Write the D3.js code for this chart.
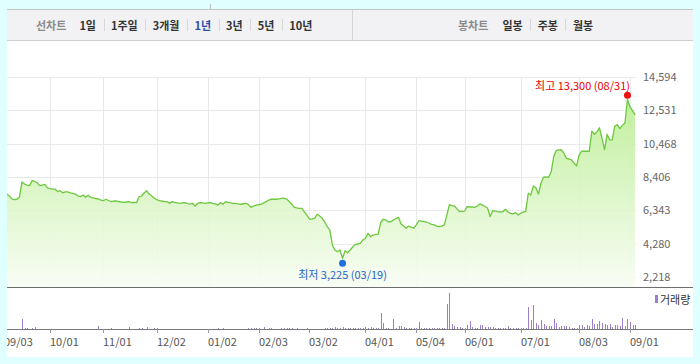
<!DOCTYPE html>
<html>
<head>
<meta charset="utf-8">
<script src="https://cdn.jsdelivr.net/npm/d3@7"></script>
<style>
  body { margin: 0; background: #e0ffff; }
  svg { display: block; font-family: "Noto Sans CJK KR", "Noto Sans", sans-serif; }
</style>
</head>
<body>
<svg id="chart" width="700" height="364"></svg>
<script>
const svg = d3.select("#chart");

// one close per trading day, 2019-09-03 .. 2020-09-03
const closes = [
  7420, 7350, 7230, 7050, 7010, 7030, 7170, 8100, 7970, 7910,
  7870, 8180, 8130, 8030, 7870, 7910, 7950, 7730, 7690, 7660,
  7660, 7500, 7560, 7430, 7480, 7480, 7420, 7390, 7350, 7230,
  7190, 7290, 7150, 7270, 7150, 7110, 7060, 7050, 6980, 6940,
  7030, 6950, 6880, 6920, 6920, 6890, 6860, 6840, 6860, 6880,
  6820, 6830, 6820, 7170, 7230, 7420, 7560, 7350, 7230, 7090,
  7010, 6940, 6920, 6890, 6880, 6780, 6880, 6830, 6800, 6780,
  6800, 6820, 6770, 6720, 6780, 6610, 6770, 6820, 6800, 6780,
  6800, 6820, 6770, 6740, 6670, 6820, 6720, 6880, 6830, 6800,
  6780, 6770, 6740, 6720, 6750, 6780, 6700, 6530, 6610, 6670,
  6700, 6720, 6800, 6880, 6980, 7030, 7030, 7030, 7050, 7080,
  7090, 7050, 6890, 6740, 6530, 6490, 6470, 6470, 6240, 6050,
  5790, 5810, 5850, 6100, 5990, 5850, 5620, 5330, 5130, 4200,
  3890, 3785, 3890, 3375, 3845, 3720, 3890, 4075, 4240, 4260,
  4305, 4510, 4615, 4920, 4710, 4815, 4850, 4860, 5590, 5790,
  5750, 5620, 5640, 5750, 5840, 5910, 5500, 5370, 5230, 5370,
  5310, 5230, 5440, 5700, 5680, 5650, 5620, 5560, 5470, 5440,
  5370, 5330, 5370, 5440, 6050, 6690, 6640, 6610, 6430, 6260,
  6280, 6300, 6570, 6550, 6550, 6530, 6610, 6740, 6670, 6580,
  6490, 5950, 6320, 6300, 6260, 6240, 6260, 6410, 6240, 6160,
  6120, 6200, 6050, 6160, 6240, 6260, 7400, 7290, 7850, 7740,
  7350, 8020, 8390, 8420, 8390, 8720, 9660, 10050, 10080, 10100,
  9890, 9560, 9520, 9460, 9270, 9090, 9770, 10000, 10000, 10000,
  10000, 11250, 11050, 11200, 11450, 10800, 10100, 11050, 10700, 10700,
  11550, 11650, 11400, 11600, 11750, 13200, 12750, 12500, 12250
];

// daily volume, thousand shares
const volumes = [
  30, 30, 30, 40, 30, 30, 40, 1000, 150, 120,
  40, 150, 200, 30, 30, 30, 30, 30, 30, 30,
  30, 30, 30, 30, 30, 30, 30, 30, 30, 30,
  30, 30, 30, 30, 30, 30, 30, 300, 30, 30,
  30, 30, 100, 30, 30, 30, 30, 30, 30, 200,
  30, 30, 30, 150, 150, 40, 200, 40, 30, 150,
  150, 30, 30, 30, 30, 30, 30, 30, 30, 30,
  30, 30, 30, 30, 30, 30, 30, 30, 30, 30,
  30, 30, 30, 30, 100, 30, 100, 30, 30, 30,
  30, 30, 30, 30, 30, 30, 100, 150, 100, 100,
  100, 30, 200, 30, 100, 100, 30, 30, 30, 150,
  100, 150, 100, 100, 40, 100, 30, 30, 30, 100,
  40, 40, 40, 40, 40, 40, 100, 100, 150, 150,
  200, 150, 100, 200, 150, 100, 100, 100, 100, 100,
  100, 100, 230, 130, 200, 100, 130, 100, 1570, 570,
  130, 130, 50, 1000, 100, 300, 300, 170, 130, 130,
  130, 130, 130, 730, 130, 100, 100, 130, 100, 60,
  100, 100, 60, 100, 2500, 3600, 500, 330, 230, 230,
  130, 130, 400, 800, 200, 130, 130, 400, 400, 230,
  170, 170, 170, 130, 130, 130, 100, 100, 300, 100,
  100, 100, 100, 100, 100, 100, 2230, 900, 2400, 630,
  400, 900, 500, 300, 300, 300, 1000, 630, 170, 300,
  300, 300, 170, 100, 100, 100, 400, 400, 230, 400,
  330, 1000, 500, 470, 800, 570, 500, 400, 500, 230,
  400, 400, 300, 1070, 300, 1000, 670, 400, 400
];

const priceTicks = [2218, 4280, 6343, 8406, 10468, 12531, 14594];
const dateTickIdx = [0, 18, 39, 60, 80, 100, 120, 142, 162, 181, 203, 226, 246];
const dateTickLabels = ["09/03", "10/01", "11/01", "12/02", "01/02", "02/03", "03/02",
  "04/01", "05/04", "06/01", "07/01", "08/03", "09/01"];

const lineTabs = ["1일", "1주일", "3개월", "1년", "3년", "5년", "10년"];
const candleTabs = ["일봉", "주봉", "월봉"];
const activeTab = "1년";

const highIdx = 245, highValue = 13300, highText = "최고 13,300 (08/31)";
const lowIdx = 133, lowValue = 3225, lowText = "최저 3,225 (03/19)";

// layout
const panel = { left: 7, right: 693, top: 9, bottom: 357 };
const plot = { left: 7, right: 636, top: 77, bottom: 287 };
const volBase = 329;

const x = d3.scaleLinear().domain([0, closes.length - 1]).range([4.2, 635.1]);
const y = d3.scaleLinear().domain([2218, 14594]).range([277, 77]);
const yv = d3.scaleLinear().domain([0, 3600]).range([volBase, 293]);

const defs = svg.append("defs");
defs.append("clipPath").attr("id", "clip")
  .append("rect")
  .attr("x", plot.left).attr("y", 40)
  .attr("width", plot.right - plot.left).attr("height", volBase - 40 + 6);

const grad = defs.append("linearGradient")
  .attr("id", "areaFill")
  .attr("gradientUnits", "userSpaceOnUse")
  .attr("x1", 0).attr("y1", plot.top).attr("x2", 0).attr("y2", plot.bottom);
grad.append("stop").attr("offset", "0%").attr("stop-color", "#b4ec88");
grad.append("stop").attr("offset", "100%").attr("stop-color", "#f8fdf4");

// white panel
svg.append("rect")
  .attr("x", panel.left).attr("y", panel.top)
  .attr("width", panel.right - panel.left).attr("height", panel.bottom - panel.top)
  .attr("fill", "#fff");

// ----- header bar -----
svg.append("line")
  .attr("x1", 210.5).attr("x2", 210.5).attr("y1", 4).attr("y2", 9)
  .attr("stroke", "#bbb");
svg.append("rect")
  .attr("x", panel.left).attr("y", panel.top)
  .attr("width", panel.right - panel.left).attr("height", 31)
  .attr("fill", "#f2f2f4");
svg.append("line")
  .attr("x1", panel.left).attr("x2", panel.right).attr("y1", 9.5).attr("y2", 9.5)
  .attr("stroke", "#c4c4c4");
svg.append("line")
  .attr("x1", panel.left).attr("x2", panel.right).attr("y1", 40.5).attr("y2", 40.5)
  .attr("stroke", "#cfcfcf");
svg.append("line")
  .attr("x1", 352.5).attr("x2", 352.5).attr("y1", 10).attr("y2", 40)
  .attr("stroke", "#d6d6d6");

const header = svg.append("g")
  .attr("font-size", 11)
  .attr("font-weight", "bold");

function tabGroup(title, tabs, startX, firstGap) {
  let cx = startX;
  const t = header.append("text")
    .attr("x", cx).attr("y", 25)
    .attr("dominant-baseline", "central")
    .attr("fill", "#8a8a8a")
    .text(title);
  cx += t.node().getComputedTextLength() + firstGap;
  tabs.forEach(function (d, i) {
    const lbl = header.append("text")
      .attr("x", cx).attr("y", 25)
      .attr("dominant-baseline", "central")
      .attr("fill", d === activeTab ? "#2f4fa8" : "#333")
      .text(d);
    cx += lbl.node().getComputedTextLength();
    if (i < tabs.length - 1) {
      header.append("line")
        .attr("x1", Math.round(cx + 7.5) + 0.5).attr("x2", Math.round(cx + 7.5) + 0.5)
        .attr("y1", 19).attr("y2", 31)
        .attr("stroke", "#d8d8d8");
      cx += 15;
    }
  });
}
tabGroup("선차트", lineTabs, 36, 13);
tabGroup("봉차트", candleTabs, 458, 14);

// ----- grid -----
const grid = svg.append("g").attr("clip-path", "url(#clip)");

grid.selectAll("line.h")
  .data(priceTicks)
  .enter()
  .append("line")
  .attr("class", "h")
  .attr("x1", plot.left).attr("x2", plot.right)
  .attr("y1", d => Math.round(y(d)) + 0.5).attr("y2", d => Math.round(y(d)) + 0.5)
  .attr("stroke", "#e9e9e9");

grid.selectAll("line.v")
  .data(dateTickIdx)
  .enter()
  .append("line")
  .attr("class", "v")
  .attr("x1", d => Math.round(x(d)) + 0.5).attr("x2", d => Math.round(x(d)) + 0.5)
  .attr("y1", plot.top).attr("y2", plot.bottom)
  .attr("stroke", "#e9e9e9");

// ----- price area + line -----
const chart = svg.append("g").attr("clip-path", "url(#clip)");

chart.append("path")
  .datum(closes)
  .attr("fill", "url(#areaFill)")
  .attr("fill-opacity", 0.9)
  .attr("d", d3.area()
    .x((d, i) => x(i))
    .y0(plot.bottom)
    .y1(d => y(d)));

chart.append("path")
  .datum(closes)
  .attr("fill", "none")
  .attr("stroke", "#6cc83c")
  .attr("stroke-width", 1.3)
  .attr("stroke-linejoin", "round")
  .attr("d", d3.line()
    .x((d, i) => x(i))
    .y(d => y(d)));

// ----- volume bars -----
chart.selectAll("rect.vol")
  .data(volumes)
  .enter()
  .append("rect")
  .attr("class", "vol")
  .attr("x", (d, i) => Math.round(x(i)))
  .attr("width", 1)
  .attr("y", d => Math.round(yv(d)))
  .attr("height", d => volBase - Math.round(yv(d)))
  .attr("fill", "#9a80c8");

// panel separators
svg.append("line")
  .attr("x1", panel.left).attr("x2", panel.right)
  .attr("y1", plot.bottom + 0.5).attr("y2", plot.bottom + 0.5)
  .attr("stroke", "#6e6e6e");
svg.append("line")
  .attr("x1", panel.left).attr("x2", panel.right)
  .attr("y1", volBase + 0.5).attr("y2", volBase + 0.5)
  .attr("stroke", "#777");

// ----- axes -----
const yAxis = svg.append("g")
  .attr("transform", `translate(${plot.right},0)`)
  .call(d3.axisRight(y)
    .tickValues(priceTicks)
    .tickSize(0)
    .tickPadding(7)
    .tickFormat(d3.format(",")));
yAxis.select(".domain").remove();
yAxis.selectAll("text")
  .attr("font-size", 11)
  .attr("font-family", "\"Noto Sans CJK KR\", sans-serif")
  .attr("fill", "#666");

const xAxis = svg.append("g")
  .attr("transform", `translate(0,${volBase})`)
  .call(d3.axisBottom(x)
    .tickValues(dateTickIdx)
    .tickSize(4)
    .tickPadding(5)
    .tickFormat((d, i) => dateTickLabels[i]));
xAxis.select(".domain").remove();
xAxis.selectAll(".tick line")
  .attr("stroke", "#999")
  .attr("transform", "translate(0.5,0)");
xAxis.selectAll(".tick")
  .attr("transform", d => `translate(${Math.round(x(d))},0)`);
xAxis.selectAll("text")
  .attr("text-anchor", "start")
  .attr("font-size", 11)
  .attr("font-family", "\"Noto Sans CJK KR\", sans-serif")
  .attr("fill", "#555");

// cover anything left of the panel
svg.append("rect")
  .attr("x", 0).attr("y", 0).attr("width", panel.left).attr("height", 364)
  .attr("fill", "#e0ffff");

// ----- high / low markers -----
svg.append("circle")
  .attr("cx", x(highIdx)).attr("cy", y(highValue) - 2.6)
  .attr("r", 3.5)
  .attr("fill", "#f01010");
svg.append("text")
  .attr("x", x(highIdx) + 2.5).attr("y", y(highValue) - 13)
  .attr("text-anchor", "end")
  .attr("dominant-baseline", "central")
  .attr("font-size", 11)
  .attr("fill", "#ee0000")
  .text(highText);

svg.append("circle")
  .attr("cx", x(lowIdx)).attr("cy", y(lowValue) + 2.6)
  .attr("r", 3.5)
  .attr("fill", "#1f6fdc");
svg.append("text")
  .attr("x", x(lowIdx)).attr("y", y(lowValue) + 13)
  .attr("text-anchor", "middle")
  .attr("dominant-baseline", "central")
  .attr("font-size", 11)
  .attr("fill", "#1f63c8")
  .text(lowText);

// volume legend
svg.append("rect")
  .attr("x", 655).attr("y", 295)
  .attr("width", 3).attr("height", 8)
  .attr("fill", "#9a80c8");
svg.append("text")
  .attr("x", 660).attr("y", 299)
  .attr("dominant-baseline", "central")
  .attr("font-size", 11)
  .attr("fill", "#333")
  .text("거래량");
</script>
</body>
</html>
